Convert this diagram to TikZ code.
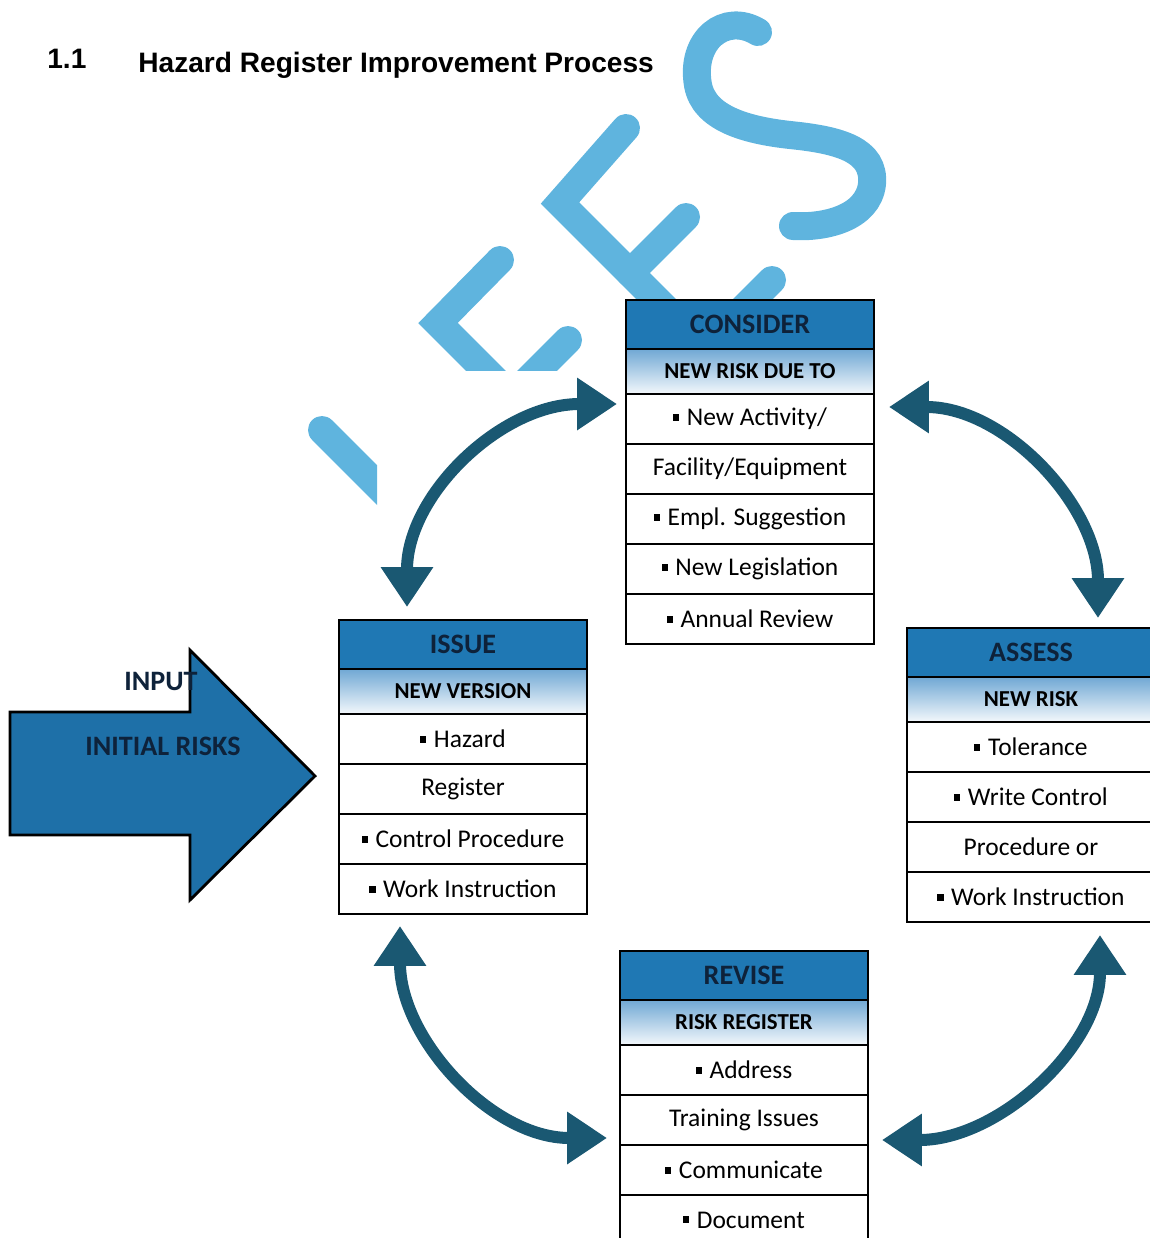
\documentclass[tikz,border=0pt]{standalone}
\usepackage{fontspec}
\setmainfont{Carlito}
\newfontfamily\titlefont{Liberation Sans}
\usetikzlibrary{arrows.meta}

\definecolor{headblue}{RGB}{31,120,180}
\definecolor{subblue}{RGB}{112,168,212}
\definecolor{navy}{RGB}{14,34,58}
\definecolor{arrowteal}{RGB}{26,88,114}
\definecolor{logoblue}{RGB}{95,180,222}
\definecolor{inputblue}{RGB}{30,112,168}

\newcommand{\sqbul}{\rule[0.2em]{0.24em}{0.26em}\hspace{0.3em}}

\begin{document}
\begin{tikzpicture}[x=0.02cm, y=-0.02cm, >={Triangle[length=0.8cm, width=1cm]},
		headbox/.style={draw, line width=1.6pt, fill=headblue, text=navy, minimum width=4.96cm, minimum height=0.98cm, inner sep=0pt, outer sep=0pt, font=\fontsize{16}{18}\selectfont\bfseries},
		subbox/.style={draw, line width=1.6pt, top color=subblue, bottom color=white!92!subblue, minimum width=4.96cm, minimum height=0.9cm, inner sep=0pt, outer sep=0pt, font=\fontsize{13}{15}\selectfont\bfseries},
		itembox/.style={draw, line width=1.6pt, fill=white, minimum width=4.96cm, minimum height=1cm, inner sep=0pt, outer sep=0pt, font=\fontsize{14.5}{16}\selectfont},
		cyclearrow/.style={<->, line width=0.24cm, color=arrowteal},
		logo/.style={line width=0.56cm, draw=logoblue, line cap=round, line join=miter}]

					\useasboundingbox (0,0) rectangle (1150,1238);

					% The watermark logo behind the diagram
						\begin{scope}
							\clip (0,0) rectangle (377,1238);
							\draw [logo] (322,430) -- (400,508);
						\end{scope}
						\begin{scope}
							\clip (0,0) rectangle (1150,370);
							\draw [logo] (500,260) -- (438,323) -- (500,385);
							\draw [logo] (568,340) -- (520,388);
						\end{scope}
						\draw [logo] (626,128) -- (560,203) -- (680,323);
						\draw [logo] (686,217) -- (630,273);
						\draw [logo] (772,280) -- (730,322);
						\draw [logo] (758,32) .. controls (725,12) and (690,40) .. (698,85)
							.. controls (704,118) and (745,130) .. (790,135)
							.. controls (840,140) and (875,150) .. (872,184)
							.. controls (868,218) and (825,228) .. (793,226);

					% Section heading
						\node [anchor=base west, inner sep=0pt, font={\titlefont\bfseries\fontsize{16}{18}\selectfont}] (secnum) at (47,68) {1.1};
						\node [anchor=base west, inner sep=0pt, font={\titlefont\bfseries\fontsize{16}{18}\selectfont}] (sectitle) at (138,72) {Hazard Register Improvement Process};

					% Input arrow on the left
						\draw [line width=1.6pt, fill=inputblue] (10,712) -- (190,712) -- (190,650) -- (315,776) -- (190,900) -- (190,835) -- (10,835) -- cycle;
						\node [anchor=east, inner sep=0pt, font=\fontsize{16}{18}\selectfont\bfseries, text=navy] (input) at (198,681) {INPUT};
						\node [font=\fontsize{16}{18}\selectfont\bfseries, text=navy] (initial) at (163,746) {INITIAL RISKS};

					% Consider
						\node [headbox] (con-h) at (750,324.5) {CONSIDER};
						\node [subbox] (con-s) at (750,371.5) {NEW RISK DUE TO};
						\foreach \t [count=\i] in {{\sqbul New Activity/}, {Facility/Equipment}, {\sqbul Empl. Suggestion}, {\sqbul New Legislation}, {\sqbul Annual Review}} {
							\node [itembox] (con-\i) at (750,369+50*\i) {\t};
							}

					% Issue
						\node [headbox] (iss-h) at (463,644.5) {ISSUE};
						\node [subbox] (iss-s) at (463,691.5) {NEW VERSION};
						\foreach \t [count=\i] in {{\sqbul Hazard}, {Register}, {\sqbul Control Procedure}, {\sqbul Work Instruction}} {
							\node [itembox] (iss-\i) at (463,689+50*\i) {\t};
							}

					% Assess
						\node [headbox] (ass-h) at (1031,652.5) {ASSESS};
						\node [subbox] (ass-s) at (1031,699.5) {NEW RISK};
						\foreach \t [count=\i] in {{\sqbul Tolerance}, {\sqbul Write Control}, {Procedure or}, {\sqbul Work Instruction}} {
							\node [itembox] (ass-\i) at (1031,697+50*\i) {\t};
							}

					% Revise
						\node [headbox] (rev-h) at (744,975.5) {REVISE};
						\node [subbox] (rev-s) at (744,1022.5) {RISK REGISTER};
						\foreach \t [count=\i] in {{\sqbul Address}, {Training Issues}, {\sqbul Communicate}, {\sqbul Document}} {
							\node [itembox] (rev-\i) at (744,1020+50*\i) {\t};
							}

					% The four curved double arrows of the cycle
						\draw [cyclearrow] ([xshift=-1.12cm, yshift=0.26cm]iss-h.north) .. controls +(0,-112) and +(-116,0) .. ([xshift=-0.18cm, yshift=0.3cm]con-1.west);
						\draw [cyclearrow] ([xshift=0.3cm, yshift=0.24cm]con-1.east) .. controls +(116,0) and +(0,-112) .. ([xshift=1.34cm, yshift=0.2cm]ass-h.north);
						\draw [cyclearrow] ([xshift=-1.26cm, yshift=-0.24cm]iss-4.south) .. controls +(0,112) and +(-116,0) .. ([xshift=-0.26cm, yshift=-0.36cm]rev-2.west);
						\draw [cyclearrow] ([xshift=1.38cm, yshift=-0.26cm]ass-4.south) .. controls +(0,112) and +(116,0) .. ([xshift=0.28cm, yshift=-0.4cm]rev-2.east);

					\end{tikzpicture}
\end{document}
